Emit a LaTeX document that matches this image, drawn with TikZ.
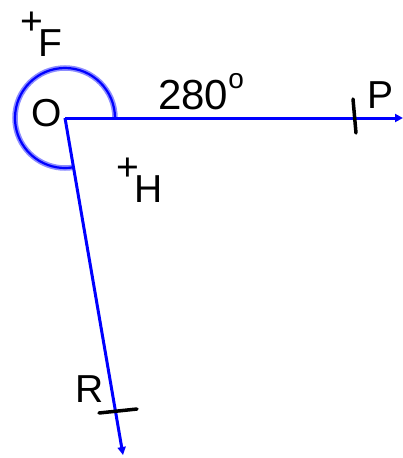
\documentclass[tikz,border=0pt]{standalone}
\usepackage{fontspec}
\setmainfont{Liberation Sans}
\usetikzlibrary{arrows.meta}
\definecolor{rayblue}{RGB}{0,0,255}
\definecolor{halo}{RGB}{140,140,255}
\tikzset{
  ray/.style={-{Triangle[length=8pt,width=8pt]},line width=3pt,draw=rayblue},
  tickmark/.style={draw=black,line width=3.5pt,line cap=round},
  lab/.style={inner sep=0pt,anchor=base west,font=\fontsize{39}{44}\selectfont},
  big/.style={inner sep=0pt,anchor=base west,font=\fontsize{42}{48}\selectfont}
}
\newcommand{\plusmark}{\raisebox{22pt}{+}\kern-4pt}

\begin{document}
\begin{tikzpicture}[x=1pt,y=-1pt]
  \useasboundingbox (0,0) rectangle (403,458);
  \coordinate (O) at (65,118);
  \coordinate (Pend) at (403,118);
  \coordinate (Rend) at (123,455);

  \draw[halo,line width=5.5pt] (O) ++(50,0) arc[start angle=0,end angle=-280,radius=50];
  \draw[rayblue,line width=2.2pt] (O) ++(50,0) arc[start angle=0,end angle=-280,radius=50];
  \draw[ray] (O) -- (Pend);
  \draw[ray] (O) -- (Rend);

  \draw[tickmark] (353,99) -- (356,133);
  \draw[tickmark] (99,413) -- (137,409);

  \node[lab] (Olab) at (31,126) {O};
  \node[lab] (Flab) at (20,56) {\plusmark F};
  \node[lab] (Hlab) at (116,202) {\plusmark H};
  \node[big] (ang) at (158,109) {280\raisebox{21pt}{\fontsize{28}{28}\selectfont o}};
  \node[lab] (Plab) at (367,108) {P};
  \node[lab] (Rlab) at (75,402) {R};
\end{tikzpicture}
\end{document}
